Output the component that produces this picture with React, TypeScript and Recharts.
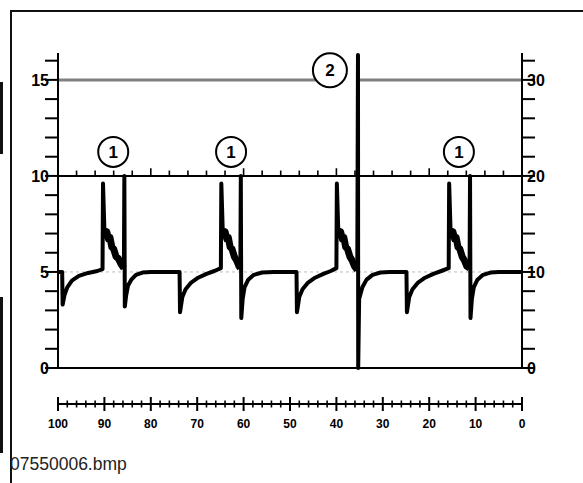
import { LineChart, Line, XAxis, YAxis, ReferenceLine, ReferenceDot } from 'recharts';

// scale ticks
const leftTicks = [0, 1, 2, 3, 4, 5, 6, 7, 8, 9, 10, 11, 12, 13, 14, 15, 16];
const rightTicks = [0, 2, 4, 6, 8, 10, 12, 14, 16, 18, 20, 22, 24, 26, 28, 30, 32];
const rulerTicks = [
  0, 2, 4, 6, 8, 10, 12, 14, 16, 18, 20, 22, 24, 26, 28, 30, 32, 34, 36, 38, 40, 42, 44, 46, 48, 50,
  52, 54, 56, 58, 60, 62, 64, 66, 68, 70, 72, 74, 76, 78, 80, 82, 84, 86, 88, 90, 92, 94, 96, 98, 100,
];
const tenLineTicks = [4, 8, 12, 16, 20, 24, 28, 32, 36, 40, 44, 48, 52, 56, 60, 64, 68, 72, 76, 80, 84, 88, 92, 96];

// trace pieces [t, v]
const seg1 = [
  [100, 5.0], [99.1, 5.0], [99.0, 3.3], [98.6, 3.8], [98.0, 4.2], [97.0, 4.55], [95.5, 4.8],
  [93.5, 4.95], [91.5, 5.05], [90.4, 5.15], [90.3, 9.6],
];
const noise1 = [
  [90.0, 7.2], [89.7, 6.9], [89.5, 7.1], [89.1, 6.7], [88.8, 6.8], [88.4, 6.3], [88.0, 6.2],
  [87.5, 5.8], [87.0, 5.7], [86.4, 5.4], [85.8, 5.2],
];
const seg2 = [
  [85.7, 10.0], [85.6, 3.2], [85.3, 3.8], [84.9, 4.3], [84.2, 4.6], [83.2, 4.85], [81.8, 4.97],
  [80.0, 5.0], [73.8, 5.0], [73.7, 2.9], [73.2, 3.7], [72.5, 4.1], [71.3, 4.45], [69.8, 4.7],
  [68.0, 4.9], [66.3, 5.05], [64.9, 5.2], [64.8, 9.6],
];
const noise2 = [
  [64.5, 7.2], [64.2, 6.9], [64.0, 7.1], [63.6, 6.7], [63.3, 6.8], [62.9, 6.3], [62.5, 6.2],
  [62.0, 5.8], [61.5, 5.6], [61.0, 5.3], [60.7, 5.2],
];
const seg3 = [
  [60.6, 10.0], [60.5, 2.6], [60.2, 3.6], [59.8, 4.2], [59.0, 4.6], [57.8, 4.85], [56.0, 4.97],
  [53.5, 5.0], [48.6, 5.0], [48.5, 2.9], [48.0, 3.7], [47.3, 4.1], [46.1, 4.45], [44.6, 4.7],
  [42.8, 4.9], [41.2, 5.05], [40.0, 5.2], [39.9, 9.6],
];
const noise3 = [
  [39.6, 7.2], [39.3, 6.9], [39.1, 7.1], [38.7, 6.7], [38.4, 6.8], [38.0, 6.3], [37.6, 6.2],
  [37.1, 5.8], [36.6, 5.6], [36.1, 5.3], [35.5, 5.1],
];
const seg4 = [
  [35.35, 16.3], [35.3, 0], [35.1, 3.6], [34.4, 4.2], [33.5, 4.6], [32.2, 4.85], [30.5, 4.97],
  [28.5, 5.0], [24.9, 5.0], [24.8, 2.9], [24.3, 3.7], [23.6, 4.1], [22.4, 4.45], [20.9, 4.7],
  [19.1, 4.9], [17.4, 5.05], [15.8, 5.2], [15.7, 9.6],
];
const noise4 = [
  [15.4, 7.2], [15.1, 6.9], [14.9, 7.1], [14.5, 6.7], [14.2, 6.8], [13.8, 6.3], [13.4, 6.2],
  [12.9, 5.8], [12.4, 5.6], [11.9, 5.3], [11.3, 5.2],
];
const seg5 = [
  [11.2, 10.0], [11.1, 2.6], [10.8, 3.6], [10.4, 4.2], [9.6, 4.6], [8.4, 4.85], [6.8, 4.97],
  [5.0, 5.0], [0, 5.0],
];

// callouts [t, v, label]
const callouts = [
  [88.1, 11.25, '1'],
  [62.7, 11.25, '1'],
  [13.6, 11.25, '1'],
];
const marker2 = [41.4, 15.5, '2'];

const toPts = (arr: number[][]) => arr.map(([t, v]) => ({ t, v }));
const trace = toPts([...seg1, ...noise1, ...seg2, ...noise2, ...seg3, ...noise3, ...seg4, ...noise4, ...seg5]);
const noiseSets = [noise1, noise2, noise3, noise4].map(toPts);
// right-hand scale reads double the left one
const traceRight = trace.map((p) => ({ t: p.t, v: p.v * 2 }));

const FONT = '"Liberation Sans", Arial, sans-serif';

const LeftTick = (props: any) => {
  const { x, y, payload } = props;
  const v = payload.value;
  return (
    <g>
      <line x1={x - 13} x2={x} y1={y} y2={y} stroke="#000" strokeWidth={2} />
      {v % 5 === 0 && (
        <text x={x - 9} y={y} dy="0.36em" textAnchor="end" fontSize={16} fontWeight="bold" fontFamily={FONT} fill="#000">
          {v}
        </text>
      )}
    </g>
  );
};

const RightTick = (props: any) => {
  const { x, y, payload } = props;
  const v = payload.value;
  return (
    <g>
      <line x1={x} x2={x + 13} y1={y} y2={y} stroke="#000" strokeWidth={2} />
      {v % 10 === 0 && (
        <text x={x + 5} y={y} dy="0.36em" textAnchor="start" fontSize={16} fontWeight="bold" fontFamily={FONT} fill="#000">
          {v}
        </text>
      )}
    </g>
  );
};

const RulerTick = (props: any) => {
  const { x, y, payload } = props;
  const v = payload.value;
  const major = v % 10 === 0;
  return (
    <g>
      <line x1={x} x2={x} y1={y - (major ? 7 : 3.5)} y2={y + (major ? 7 : 3.5)} stroke="#000" strokeWidth={major ? 2 : 1.6} />
      {major && (
        <text x={x} y={y + 24} textAnchor="middle" fontSize={12} fontWeight="bold" fontFamily={FONT} fill="#000">
          {v}
        </text>
      )}
    </g>
  );
};

const circleShape = (r: number, label: string) => (props: any) => (
  <g>
    <circle cx={props.cx} cy={props.cy} r={r} fill="#fff" stroke="#000" strokeWidth={2} />
    <text x={props.cx} y={props.cy} dy="0.36em" textAnchor="middle" fontSize={17} fontWeight="bold" fontFamily={FONT} fill="#000">
      {label}
    </text>
  </g>
);

export default function App() {
  return (
    <div style={{ position: 'absolute', left: 0, top: 0, width: 583, height: 483, background: '#fff' }}>
      <svg width={583} height={483} style={{ position: 'absolute', left: 0, top: 0 }}>
        <line x1={10} x2={583} y1={11} y2={11} stroke="#111" strokeWidth={2} />
        <line x1={11} x2={11} y1={10} y2={483} stroke="#111" strokeWidth={2} />
        <rect x={0} y={82} width={3} height={72} fill="#111" />
        <rect x={0} y={297} width={3} height={156} fill="#111" />
        <text x={10} y={470} fontSize={17.5} fontFamily={FONT} fill="#222">
          07550006.bmp
        </text>
      </svg>
      <div style={{ position: 'absolute', left: 0, top: 0 }}>
        <LineChart width={583} height={483} margin={{ top: 53, right: 0, bottom: 49, left: 0 }}>
          <XAxis xAxisId="a" type="number" dataKey="t" domain={[0, 100]} reversed height={36} tick={false} axisLine={false} tickLine={false} />
          <XAxis
            xAxisId="b"
            type="number"
            dataKey="t"
            domain={[0, 100]}
            reversed
            height={30}
            ticks={rulerTicks}
            interval={0}
            tickSize={0}
            tickMargin={0}
            tickLine={false}
            tick={<RulerTick />}
            axisLine={{ stroke: '#000', strokeWidth: 2 }}
          />
          <YAxis
            yAxisId="l"
            type="number"
            domain={[0, 16.4]}
            width={58}
            ticks={leftTicks}
            interval={0}
            tickSize={0}
            tickMargin={0}
            tickLine={false}
            tick={<LeftTick />}
            axisLine={{ stroke: '#000', strokeWidth: 2 }}
          />
          <YAxis
            yAxisId="r"
            orientation="right"
            type="number"
            domain={[0, 32.8]}
            width={61}
            ticks={rightTicks}
            interval={0}
            tickSize={0}
            tickMargin={0}
            tickLine={false}
            tick={<RightTick />}
            axisLine={{ stroke: '#000', strokeWidth: 2 }}
          />
          <ReferenceLine xAxisId="a" yAxisId="l" y={5} stroke="#bbb" strokeWidth={1} strokeDasharray="3 3" />
          <ReferenceLine xAxisId="a" yAxisId="l" y={0} stroke="#000" strokeWidth={2} />
          <ReferenceLine xAxisId="a" yAxisId="l" y={10} stroke="#000" strokeWidth={2} />
          {tenLineTicks.map((t) => (
            <ReferenceLine
              key={t}
              xAxisId="a"
              yAxisId="l"
              segment={[{ x: t, y: 10 }, { x: t, y: t % 20 === 0 ? 10.4 : 10.28 }]}
              stroke="#000"
              strokeWidth={1.6}
            />
          ))}
          <ReferenceLine xAxisId="a" yAxisId="l" segment={[{ x: 100, y: 15 }, { x: 41.4, y: 15 }]} stroke="#808080" strokeWidth={3} />
          <ReferenceLine xAxisId="a" yAxisId="l" segment={[{ x: 35.1, y: 15 }, { x: 0, y: 15 }]} stroke="#808080" strokeWidth={3} />
          {/* same trace on the ruler / right scale, invisible, so those axes get drawn */}
          <Line
            xAxisId="b"
            yAxisId="r"
            data={traceRight}
            dataKey="v"
            stroke="none"
            dot={false}
            activeDot={false}
            isAnimationActive={false}
          />
          <Line
            xAxisId="a"
            yAxisId="l"
            data={trace}
            dataKey="v"
            stroke="#000"
            strokeWidth={4}
            strokeLinejoin="round"
            dot={false}
            activeDot={false}
            isAnimationActive={false}
          />
          {noiseSets.map((d, i) => (
            <Line
              key={i}
              xAxisId="a"
              yAxisId="l"
              data={d}
              dataKey="v"
              stroke="#000"
              strokeWidth={7}
              strokeLinejoin="round"
              dot={false}
              activeDot={false}
              isAnimationActive={false}
            />
          ))}
          {callouts.map(([t, v, label], i) => (
            <ReferenceDot key={i} xAxisId="a" yAxisId="l" x={t as number} y={v as number} r={15} shape={circleShape(15, label as string)} />
          ))}
          <ReferenceDot
            xAxisId="a"
            yAxisId="l"
            x={marker2[0] as number}
            y={marker2[1] as number}
            r={17}
            shape={circleShape(17, marker2[2] as string)}
          />
        </LineChart>
      </div>
    </div>
  );
}
